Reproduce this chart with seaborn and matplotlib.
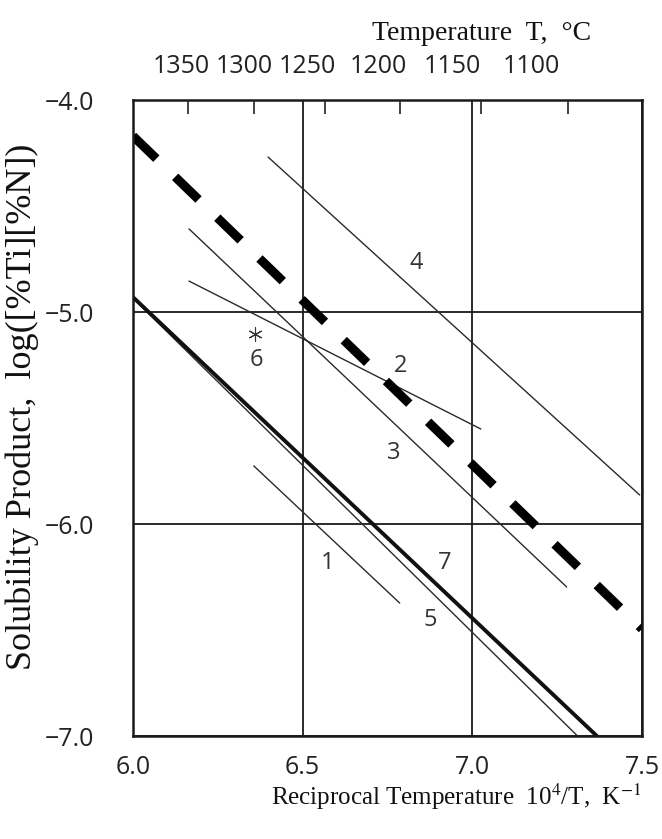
import matplotlib
matplotlib.use("Agg")
import matplotlib.pyplot as plt
import seaborn as sns
import pandas as pd

# ---------------- data ----------------
x_ticks = [6.0, 6.5, 7.0, 7.5]
x_ticklabels = ["6.0", "6.5", "7.0", "7.5"]
y_ticks = [-7.0, -6.0, -5.0, -4.0]
y_ticklabels = ["\u22127.0", "\u22126.0", "\u22125.0", "\u22124.0"]

temps_c = [1350, 1300, 1250, 1200, 1150, 1100]
temp_label_x = [6.141, 6.327, 6.515, 6.722, 6.940, 7.175]   # where the printed labels sit

line1_x = [6.356, 6.786]; line1_y = [-5.726, -6.373]
line2_x = [6.165, 7.025]; line2_y = [-4.854, -5.552]
line3_x = [6.165, 7.278]; line3_y = [-4.608, -6.297]
line4_x = [6.398, 7.493]; line4_y = [-4.269, -5.863]
line5_x = [6.000, 7.310]; line5_y = [-4.935, -7.000]
line7_x = [6.000, 7.367]; line7_y = [-4.930, -7.000]
dash_x = [6.000, 7.500];  dash_y = [-4.170, -6.495]

point6_x = [6.360]; point6_y = [-5.104]

label_text = ["1", "2", "3", "4", "5", "6", "7"]
label_x = [6.573, 6.788, 6.767, 6.836, 6.875, 6.365, 6.919]
label_y = [-6.182, -5.255, -5.663, -4.770, -6.453, -5.226, -6.184]

# ---------------- style ----------------
sns.set_theme(style="white")
plt.rcParams["font.family"] = ["Open Sans", "DejaVu Sans"]
plt.rcParams["mathtext.fontset"] = "stix"
serif = ["Liberation Serif", "DejaVu Serif"]

fig = plt.figure(figsize=(6.62, 8.39), dpi=100)
ax = fig.add_axes([133 / 662, 1 - 736 / 839, (642 - 133) / 662, (736 - 100) / 839])

thin = dict(color="#2a2a2a", lw=1.0)
for xs, ys in [(line1_x, line1_y), (line2_x, line2_y), (line3_x, line3_y),
               (line4_x, line4_y), (line5_x, line5_y)]:
    sns.lineplot(x=xs, y=ys, ax=ax, **thin)
sns.lineplot(x=line7_x, y=line7_y, ax=ax, color="#111111", lw=2.8)
sns.lineplot(x=dash_x, y=dash_y, ax=ax, color="black", lw=6.5,
             linestyle=(0, (3.6, 2.9)), dash_capstyle="butt")

sns.scatterplot(x=point6_x, y=point6_y, ax=ax, marker=(6, 2, 0), s=90,
                color="#333333", linewidth=0.8)

for t, x, y in zip(label_text, label_x, label_y):
    ax.text(x, y, t, ha="center", va="center", fontsize=17, color="#333333")

ax.set_xlim(6.0, 7.5)
ax.set_ylim(-7.0, -4.0)
ax.set_xticks(x_ticks)
ax.set_xticklabels(x_ticklabels)
ax.set_yticks(y_ticks)
ax.set_yticklabels(y_ticklabels)
ax.tick_params(axis="x", length=0, labelsize=18, pad=14, colors="#222222")
ax.tick_params(axis="y", length=0, labelsize=18, pad=28, colors="#222222")
ax.grid(True, color="#1a1a1a", lw=1.3)
for s in ax.spines.values():
    s.set_color("#1a1a1a")
    s.set_linewidth(1.8)

ax.set_xlabel(r"Reciprocal Temperature  10$^{4}$/T,  K$^{-1}$", family=serif,
              fontsize=18, color="#111111")
ax.xaxis.set_label_coords(0.635, -0.072)
ax.set_ylabel("Solubility Product,  log([%Ti][%N])", family=serif,
              fontsize=26, color="#111111")
ax.yaxis.set_label_coords(-0.185, 0.517)

ax2 = ax.twiny()
ax2.set_xlim(ax.get_xlim())
ax2.grid(False)
ax2.set_xticks(temp_label_x)
ax2.set_xticklabels([str(t) for t in temps_c])
ax2.set_xticks([1e4 / (t + 273.15) for t in temps_c], minor=True)
ax2.tick_params(axis="x", which="major", length=0, labelsize=18, pad=15, colors="#222222")
ax2.tick_params(axis="x", which="minor", direction="in", length=10, width=1.2,
                color="#222222", top=True)
for s in ax2.spines.values():
    s.set_visible(False)
ax2.set_xlabel("Temperature  T,  \u00b0C", family=serif, fontsize=20, color="#111111")
ax2.xaxis.set_label_coords(0.685, 1.094)

fig.savefig("out.png", dpi=100)
